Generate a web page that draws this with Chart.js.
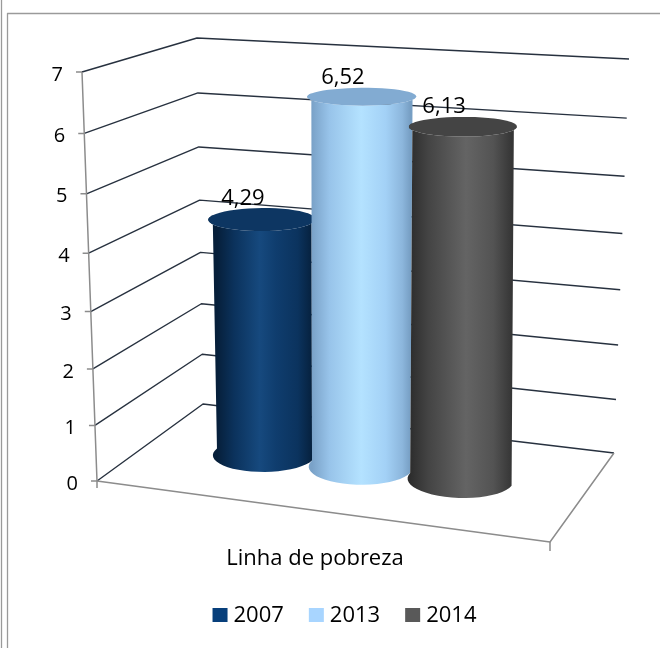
<!DOCTYPE html>
<html>
<head>
<meta charset="utf-8">
<script src="https://cdn.jsdelivr.net/npm/chart.js@4/dist/chart.umd.min.js"></script>
<style>
  html, body { margin: 0; padding: 0; background: #ffffff; }
  #wrap { width: 660px; height: 648px; position: relative; }
</style>
</head>
<body>
<div id="wrap"><canvas id="chart" width="660" height="648"></canvas></div>
<script>
// ---- data ----
const categories = ['Linha de pobreza'];
const seriesLabels = ['2007', '2013', '2014'];
const values2007 = [4.29];
const values2013 = [6.52];
const values2014 = [6.13];
const yTickValues = [0, 1, 2, 3, 4, 5, 6, 7];

// ---- styling for each series: legend swatch, cylinder cap, body shading ----
const seriesStyle = [
  { swatch: '#073f7b', cap: '#0d3662',
    body: [[0, '#061f3a'], [0.18, '#0b325c'], [0.45, '#16497e'], [0.62, '#0f3d6e'], [0.85, '#0b335e'], [1, '#06213e']] },
  { swatch: '#a8d5ff', cap: '#82abd2',
    body: [[0, '#7aa2c8'], [0.18, '#98c4ea'], [0.5, '#b4e2ff'], [0.75, '#a3d1f6'], [0.92, '#8cb6dc'], [1, '#779fc4']] },
  { swatch: '#595959', cap: '#444444',
    body: [[0, '#2d2d2d'], [0.18, '#444444'], [0.55, '#646464'], [0.82, '#535353'], [1, '#363636']] }
];

const FONT = '"Open Sans", "Liberation Sans", sans-serif';
const GRID = '#27313f';
const AXIS = '#8c8c8c';

// Square-to-quadrilateral projective map: (0,0)->p0, (1,0)->p1, (1,1)->p2, (0,1)->p3
function quadMap(p0, p1, p2, p3) {
  const [x0, y0] = p0, [x1, y1] = p1, [x2, y2] = p2, [x3, y3] = p3;
  const dx1 = x1 - x2, dx2 = x3 - x2, dy1 = y1 - y2, dy2 = y3 - y2;
  const sx = x0 - x1 + x2 - x3, sy = y0 - y1 + y2 - y3;
  const den = dx1 * dy2 - dx2 * dy1;
  const g = (sx * dy2 - dx2 * sy) / den;
  const h = (dx1 * sy - sx * dy1) / den;
  const a = x1 - x0 + g * x1, b = x3 - x0 + h * x3;
  const d = y1 - y0 + g * y1, e = y3 - y0 + h * y3;
  return (u, w) => {
    const q = g * u + h * w + 1;
    return [(a * u + b * w + x0) / q, (d * u + e * w + y0) / q];
  };
}

// Bilinear map of the unit square onto a quadrilateral (same corner order)
function bilinearMap(p0, p1, p2, p3) {
  return (u, w) => {
    const k0 = (1 - u) * (1 - w), k1 = u * (1 - w), k2 = u * w, k3 = (1 - u) * w;
    return [k0 * p0[0] + k1 * p1[0] + k2 * p2[0] + k3 * p3[0],
            k0 * p0[1] + k1 * p1[1] + k2 * p2[1] + k3 * p3[1]];
  };
}

// Draws the 3D walls, axis, cylinders, labels, category title and legend
const cylinderPlugin = {
  id: 'cylinders3d',
  afterDatasetsDraw(chart) {
    const ctx = chart.ctx;
    const area = chart.chartArea;
    const ys = chart.scales.y;
    const L = area.left, R = area.right, T = area.top, B = area.bottom;

    // floor (value 0) and ceiling (max value) planes of the plot box
    const floor = quadMap([L, B], [R, B + 61], [R + 64, B - 28], [L + 106, B - 77]);
    const roof = bilinearMap([L - 15, T], [R - 10, T + 30], [R + 79, T - 13], [L + 100, T - 34]);
    const y0 = ys.getPixelForValue(ys.min);
    const span = y0 - ys.getPixelForValue(ys.max);
    const frac = v => (y0 - ys.getPixelForValue(v)) / span;
    const warp = t => t / (t + 1.06 * (1 - t));
    const P = (u, w, t) => {
      const a = floor(u, w), b = roof(u, w), f = warp(t);
      return [a[0] + (b[0] - a[0]) * f, a[1] + (b[1] - a[1]) * f];
    };

    ctx.save();
    ctx.lineJoin = 'round';
    ctx.lineCap = 'butt';

    // side and back wall gridlines
    ctx.strokeStyle = GRID;
    ctx.lineWidth = 1.4;
    yTickValues.forEach(v => {
      const t = frac(v);
      const a = P(0, 0, t), b = P(0, 1, t), c = P(1, 1, t);
      ctx.beginPath();
      ctx.moveTo(a[0], a[1]); ctx.lineTo(b[0], b[1]); ctx.lineTo(c[0], c[1]);
      ctx.stroke();
    });

    // floor front and right edges, category ticks
    ctx.strokeStyle = AXIS;
    ctx.lineWidth = 1.5;
    const f0 = P(0, 0, 0), f1 = P(1, 0, 0), f2 = P(1, 1, 0);
    ctx.beginPath();
    ctx.moveTo(f0[0], f0[1]); ctx.lineTo(f1[0], f1[1]); ctx.lineTo(f2[0], f2[1]);
    ctx.stroke();
    ctx.beginPath();
    ctx.moveTo(f0[0], f0[1]); ctx.lineTo(f0[0], f0[1] + 7);
    ctx.moveTo(f1[0], f1[1]); ctx.lineTo(f1[0], f1[1] + 9);
    ctx.stroke();

    // value axis with tick marks and labels
    const top = P(0, 0, 1);
    ctx.beginPath();
    ctx.moveTo(f0[0], f0[1]); ctx.lineTo(top[0], top[1]);
    yTickValues.forEach(v => {
      const p = P(0, 0, frac(v));
      ctx.moveTo(p[0] - 6, p[1]); ctx.lineTo(p[0], p[1]);
    });
    ctx.stroke();

    ctx.fillStyle = '#000000';
    ctx.font = '20px ' + FONT;
    ctx.textAlign = 'right';
    ctx.textBaseline = 'alphabetic';
    yTickValues.forEach(v => {
      const p = P(0, 0, frac(v));
      ctx.fillText(String(v), p[0] - 19, p[1] + 8.6);
    });

    // cylinders
    const hd = 0.2;
    const N = 48;
    const labels = [];
    chart.data.datasets.forEach((ds, i) => {
      const meta = chart.getDatasetMeta(i);
      const el = meta.data[0];
      if (!el) return;
      const st = seriesStyle[i];
      const uc = (el.x - L) / (R - L);
      const ru = el.width / 2 / (R - L);
      const t = (el.base - el.y) / span;
      const ringPt = (th, tt) => P(uc + ru * Math.cos(th), 0.5 + hd * Math.sin(th), tt);

      // body: front half of the base ring, then front half of the top ring
      const left = P(uc - ru, 0.5, 0), right = P(uc + ru, 0.5, 0);
      const grad = ctx.createLinearGradient(left[0], 0, right[0], 0);
      st.body.forEach(([o, c]) => grad.addColorStop(o, c));
      ctx.beginPath();
      for (let k = 0; k <= N / 2; k++) {
        const p = ringPt(Math.PI + Math.PI * k / (N / 2), 0);
        k === 0 ? ctx.moveTo(p[0], p[1]) : ctx.lineTo(p[0], p[1]);
      }
      for (let k = N / 2; k >= 0; k--) {
        const p = ringPt(Math.PI + Math.PI * k / (N / 2), t);
        ctx.lineTo(p[0], p[1]);
      }
      ctx.closePath();
      ctx.fillStyle = grad;
      ctx.fill();

      // cap
      ctx.beginPath();
      for (let k = 0; k <= N; k++) {
        const p = ringPt(2 * Math.PI * k / N, t);
        k === 0 ? ctx.moveTo(p[0], p[1]) : ctx.lineTo(p[0], p[1]);
      }
      ctx.closePath();
      ctx.fillStyle = st.cap;
      ctx.fill();

      const capBack = P(uc, 0.5 + hd, t);
      const capMid = P(uc, 0.5, t);
      labels.push({ x: capMid[0] - 19, y: capBack[1] - 4, v: ds.data[0] });
    });

    // value labels
    ctx.fillStyle = '#000000';
    ctx.font = '22px ' + FONT;
    ctx.textAlign = 'center';
    ctx.textBaseline = 'alphabetic';
    labels.forEach(l => {
      ctx.fillText(l.v.toFixed(2).replace('.', ','), l.x, l.y);
    });

    // category name under the floor
    const cat = P(0.5, 0, 0);
    ctx.fillText(chart.data.labels[0], cat[0], 565);

    // legend
    ctx.font = '22px ' + FONT;
    ctx.textAlign = 'left';
    const boxW = 15, boxH = 14, gapIn = 6, gapOut = 25;
    const items = chart.data.datasets.map((ds, i) => ({
      text: ds.label, color: seriesStyle[i].swatch,
      w: boxW + gapIn + ctx.measureText(ds.label).width
    }));
    const totalW = items.reduce((s, it) => s + it.w, 0) + gapOut * (items.length - 1);
    let lx = 344.5 - totalW / 2;
    items.forEach(it => {
      ctx.fillStyle = it.color;
      ctx.fillRect(lx, 608, boxW, boxH);
      ctx.fillStyle = '#000000';
      ctx.fillText(it.text, lx + boxW + gapIn, 622);
      lx += it.w + gapOut;
    });

    // chart border
    ctx.strokeStyle = '#9a9a9a';
    ctx.lineWidth = 1.3;
    ctx.beginPath();
    ctx.moveTo(1.5, 0); ctx.lineTo(1.5, 648);
    ctx.moveTo(7.5, 648); ctx.lineTo(7.5, 13.5); ctx.lineTo(660, 13.5);
    ctx.stroke();

    ctx.restore();
  }
};

function build() {
  new Chart(document.getElementById('chart'), {
    type: 'bar',
    data: {
      labels: categories,
      datasets: [
        { label: seriesLabels[0], data: values2007 },
        { label: seriesLabels[1], data: values2013 },
        { label: seriesLabels[2], data: values2014 }
      ].map(d => Object.assign(d, {
        backgroundColor: 'rgba(0,0,0,0)',
        borderWidth: 0,
        categoryPercentage: 0.684,
        barPercentage: 1.0
      }))
    },
    options: {
      responsive: false,
      animation: false,
      devicePixelRatio: 1,
      layout: { padding: { left: 97, right: 110, top: 72, bottom: 167 } },
      scales: {
        x: { display: false },
        y: { display: false, min: 0, max: 7 }
      },
      plugins: {
        legend: { display: false },
        title: { display: false },
        tooltip: { enabled: false }
      }
    },
    plugins: [cylinderPlugin]
  });
}

if (document.fonts && document.fonts.load) {
  Promise.all([
    document.fonts.load('20px "Open Sans"'),
    document.fonts.load('22px "Open Sans"')
  ]).then(build, build);
} else {
  build();
}
</script>
</body>
</html>
